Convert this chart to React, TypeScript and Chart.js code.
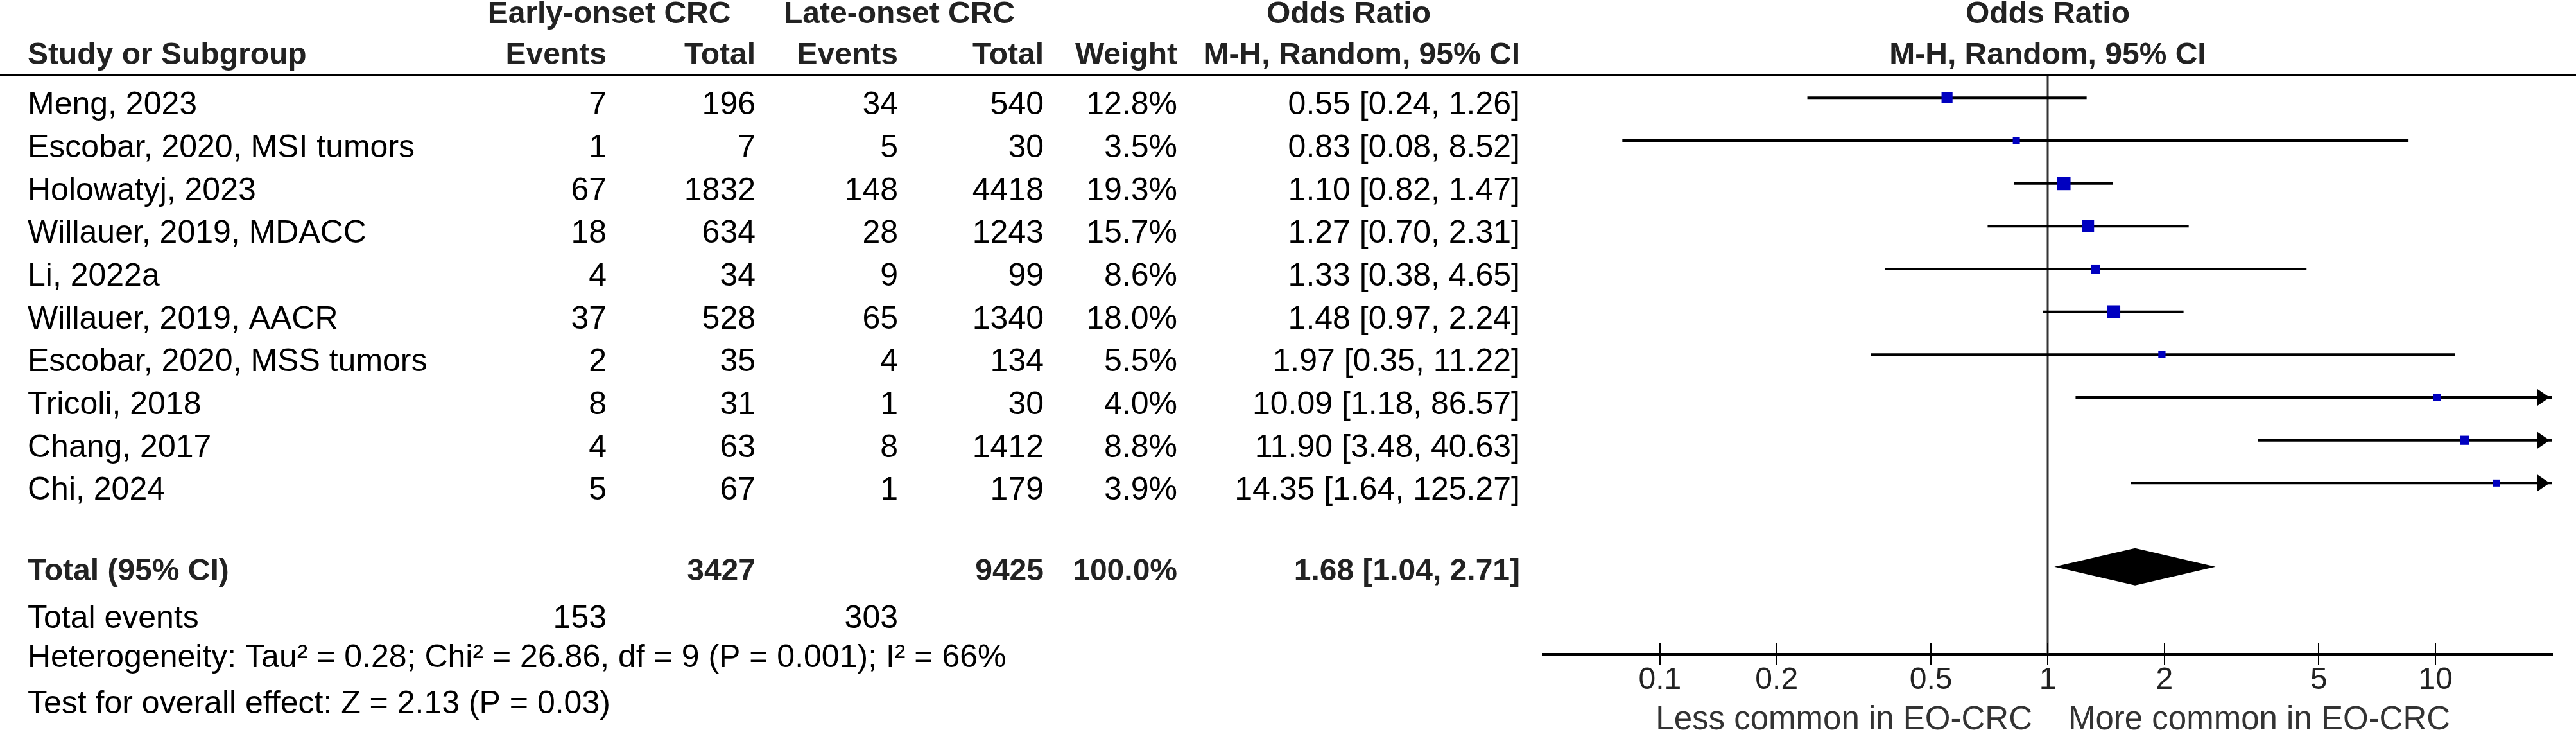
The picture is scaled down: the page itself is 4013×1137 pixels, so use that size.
import React, { useEffect, useRef } from 'react';
import { Chart, registerables } from 'chart.js';

Chart.register(...registerables);

const studies = [
  'Meng, 2023',
  'Escobar, 2020, MSI tumors',
  'Holowatyj, 2023',
  'Willauer, 2019, MDACC',
  'Li, 2022a',
  'Willauer, 2019, AACR',
  'Escobar, 2020, MSS tumors',
  'Tricoli, 2018',
  'Chang, 2017',
  'Chi, 2024',
];
const earlyEvents = [7, 1, 67, 18, 4, 37, 2, 8, 4, 5];
const earlyTotal = [196, 7, 1832, 634, 34, 528, 35, 31, 63, 67];
const lateEvents = [34, 5, 148, 28, 9, 65, 4, 1, 8, 1];
const lateTotal = [540, 30, 4418, 1243, 99, 1340, 134, 30, 1412, 179];
const weights = [12.8, 3.5, 19.3, 15.7, 8.6, 18.0, 5.5, 4.0, 8.8, 3.9];
const oddsRatio = [0.55, 0.83, 1.1, 1.27, 1.33, 1.48, 1.97, 10.09, 11.9, 14.35];
const ciLower = [0.24, 0.08, 0.82, 0.7, 0.38, 0.97, 0.35, 1.18, 3.48, 1.64];
const ciUpper = [1.26, 8.52, 1.47, 2.31, 4.65, 2.24, 11.22, 86.57, 40.63, 125.27];

const totalEarly = 3427;
const totalLate = 9425;
const totalWeight = 100.0;
const eventsEarlyTotal = 153;
const eventsLateTotal = 303;
const pooledOR = 1.68;
const pooledLower = 1.04;
const pooledUpper = 2.71;

const heterogeneityText = 'Heterogeneity: Tau\u00b2 = 0.28; Chi\u00b2 = 26.86, df = 9 (P = 0.001); I\u00b2 = 66%';
const overallText = 'Test for overall effect: Z = 2.13 (P = 0.03)';
const leftLabel = 'Less common in EO-CRC';
const rightLabel = 'More common in EO-CRC';

const xTicks = [0.1, 0.2, 0.5, 1, 2, 5, 10];
const xMin = 0.05;
const xMax = 20;

const FONT = "'Liberation Sans', Arial, Helvetica, sans-serif";
const W = 4013;
const H = 1137;

const forestPlugin = {
  id: 'forestText',
  afterDraw(chart: any) {
    const ctx = chart.ctx as CanvasRenderingContext2D;
    const xs = chart.scales.x;
    const ys = chart.scales.y;
    const px = (v: number) => xs.getPixelForValue(v);
    const py = (v: number) => ys.getPixelForValue(v);
    const txt = (s: string, x: number, y: number, align: CanvasTextAlign, font: string, color = '#000') => {
      ctx.font = font;
      ctx.textAlign = align;
      ctx.textBaseline = 'alphabetic';
      ctx.fillStyle = color;
      ctx.fillText(s, x, y);
    };
    ctx.save();
    const bold = `bold 48px ${FONT}`;
    const reg = `50px ${FONT}`;
    const hc = '#222';

    // header rule
    ctx.fillStyle = '#000';
    ctx.fillRect(0, 115, W, 4);

    // headers
    txt('Early-onset CRC', 949, 36, 'center', bold, hc);
    txt('Late-onset CRC', 1401, 36, 'center', bold, hc);
    txt('Odds Ratio', 2101, 36, 'center', bold, hc);
    txt('Odds Ratio', px(1), 36, 'center', bold, hc);
    txt('Study or Subgroup', 43, 100, 'left', bold, hc);
    txt('Events', 945, 100, 'right', bold, hc);
    txt('Total', 1177, 100, 'right', bold, hc);
    txt('Events', 1399, 100, 'right', bold, hc);
    txt('Total', 1626, 100, 'right', bold, hc);
    txt('Weight', 1834, 100, 'right', bold, hc);
    txt('M-H, Random, 95% CI', 2368, 100, 'right', bold, hc);
    txt('M-H, Random, 95% CI', px(1), 100, 'center', bold, hc);

    // study rows
    studies.forEach((s, i) => {
      const y = py(i) + 26;
      txt(s, 43, y, 'left', reg);
      txt(String(earlyEvents[i]), 945, y, 'right', reg);
      txt(String(earlyTotal[i]), 1177, y, 'right', reg);
      txt(String(lateEvents[i]), 1399, y, 'right', reg);
      txt(String(lateTotal[i]), 1626, y, 'right', reg);
      txt(`${weights[i].toFixed(1)}%`, 1834, y, 'right', reg);
      txt(`${oddsRatio[i].toFixed(2)} [${ciLower[i].toFixed(2)}, ${ciUpper[i].toFixed(2)}]`, 2368, y, 'right', reg);
    });

    // total row
    const ty = py(studies.length + 1) + 18;
    txt('Total (95% CI)', 43, ty, 'left', bold, hc);
    txt(String(totalEarly), 1177, ty, 'right', bold, hc);
    txt(String(totalLate), 1626, ty, 'right', bold, hc);
    txt(`${totalWeight.toFixed(1)}%`, 1834, ty, 'right', bold, hc);
    txt(`${pooledOR.toFixed(2)} [${pooledLower.toFixed(2)}, ${pooledUpper.toFixed(2)}]`, 2368, ty, 'right', bold, hc);

    const ey = py(studies.length + 2) + 26;
    txt('Total events', 43, ey, 'left', reg);
    txt(String(eventsEarlyTotal), 945, ey, 'right', reg);
    txt(String(eventsLateTotal), 1399, ey, 'right', reg);
    txt(heterogeneityText, 43, py(studies.length + 3) + 20, 'left', reg);
    txt(overallText, 43, py(studies.length + 4) + 25, 'left', reg);

    // diamond
    const dy = py(studies.length + 1) - 3;
    ctx.beginPath();
    ctx.moveTo(px(pooledLower), dy);
    ctx.lineTo(px(pooledOR), dy - 29);
    ctx.lineTo(px(pooledUpper), dy);
    ctx.lineTo(px(pooledOR), dy + 29);
    ctx.closePath();
    ctx.fillStyle = '#000';
    ctx.fill();

    // arrows for CIs beyond the axis
    ciUpper.forEach((u, i) => {
      if (u <= xMax) return;
      const tip = px(xMax) - 4;
      const y = py(i);
      ctx.beginPath();
      ctx.moveTo(tip, y);
      ctx.lineTo(tip - 19, y - 13);
      ctx.lineTo(tip - 19, y + 13);
      ctx.closePath();
      ctx.fillStyle = '#000';
      ctx.fill();
    });

    // upper halves of tick marks
    const axisY = chart.chartArea.bottom;
    ctx.fillStyle = '#000';
    xTicks.forEach((t) => {
      ctx.fillRect(Math.round(px(t)) - 1, axisY - 18, 2, 18);
    });

    // direction labels
    const lf = `51px ${FONT}`;
    txt(leftLabel, px(1) - 24, 1136, 'right', lf, '#333');
    txt(rightLabel, px(1) + 32, 1136, 'left', lf, '#333');
    ctx.restore();
  },
};

export default function App() {
  const ref = useRef<HTMLCanvasElement | null>(null);
  useEffect(() => {
    document.body.style.margin = '0';
    const canvas = ref.current;
    if (!canvas) return;

    const squareSide = weights.map((w) => Math.max(11, 4.8 * Math.sqrt(w)));
    const datasets: any[] = [
      {
        label: 'Study OR',
        data: oddsRatio.map((v, i) => ({ x: v, y: i })),
        pointStyle: 'rect',
        pointRadius: squareSide.map((s) => s / Math.SQRT2),
        backgroundColor: '#0000C0',
        borderWidth: 0,
        showLine: false,
        order: 0,
      },
    ];
    studies.forEach((s, i) => {
      datasets.push({
        label: s,
        data: [
          { x: ciLower[i], y: i },
          { x: Math.min(ciUpper[i], xMax), y: i },
        ],
        showLine: true,
        borderColor: '#000',
        borderWidth: 4,
        pointRadius: 0,
        order: 2,
      });
    });
    datasets.push({
      label: 'No effect',
      data: [
        { x: 1, y: -0.5 },
        { x: 1, y: 13 },
      ],
      showLine: true,
      borderColor: '#333',
      borderWidth: 3,
      pointRadius: 0,
      order: 3,
    });

    const chart = new Chart(canvas, {
      type: 'scatter',
      data: { datasets },
      options: {
        responsive: false,
        animation: false,
        layout: { padding: { left: 2404, right: 37, top: 119, bottom: 0 } },
        plugins: { legend: { display: false }, tooltip: { enabled: false } },
        scales: {
          x: {
            type: 'logarithmic',
            min: xMin,
            max: xMax,
            afterBuildTicks: (scale: any) => {
              scale.ticks = xTicks.map((v) => ({ value: v }));
            },
            afterFit: (scale: any) => {
              scale.height = 118;
            },
            border: { display: true, color: '#000', width: 4 },
            grid: {
              display: true,
              drawOnChartArea: false,
              drawTicks: true,
              tickLength: 17,
              color: '#000',
              lineWidth: 2,
            },
            ticks: {
              autoSkip: false,
              maxRotation: 0,
              padding: 0,
              color: '#222',
              font: { size: 48, family: FONT, lineHeight: 1 },
              callback: (v: any) => String(v),
            },
          },
          y: {
            type: 'linear',
            display: false,
            reverse: true,
            min: -0.5,
            max: 13,
          },
        },
      },
      plugins: [forestPlugin],
    });
    return () => chart.destroy();
  }, []);
  return <canvas ref={ref} width={W} height={H} style={{ display: 'block' }} />;
}
